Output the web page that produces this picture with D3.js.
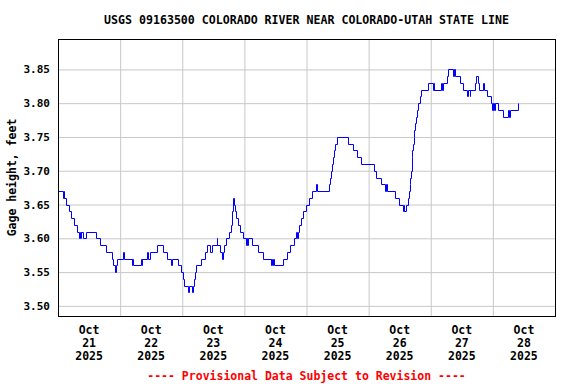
<!DOCTYPE html>
<html>
<head>
<meta charset="utf-8">
<script src="https://cdnjs.cloudflare.com/ajax/libs/d3/7.8.5/d3.min.js"></script>
<style>
	body { margin: 0; background: #fff; }
	svg text { font-family: "DejaVu Sans Mono", "Liberation Mono", monospace; font-weight: bold; fill: #000; }
</style>
</head>
<body>
<div id="chart"></div>
<script>
// Gage height readings. Each pair is [hour of the day, feet]
// and the value holds until the next pair (the gage reports in 0.01 ft steps).
const oct21 = [[0,3.67],[1.9,3.66],[2.2,3.67],[2.4,3.66],[3.2,3.65],[4.1,3.64],[5.2,3.63],[6.1,3.62],[7.2,3.61],[8.3,3.60],[8.6,3.61],[8.8,3.60],[9.0,3.61],[9.8,3.60],[11.0,3.61],[14.8,3.60],[16.1,3.59],[18.7,3.58],[20.9,3.57],[21.3,3.56],[21.9,3.55],[22.4,3.56],[22.8,3.57]];
const oct22 = [[1.2,3.58],[1.5,3.57],[4.4,3.56],[4.6,3.57],[4.9,3.56],[8.0,3.57],[8.3,3.56],[8.6,3.57],[10.2,3.58],[10.6,3.57],[11.5,3.58],[14.3,3.59],[16.6,3.58],[18.2,3.57],[19.6,3.56],[20.1,3.57],[22.2,3.56],[23.7,3.55]];
const oct23 = [[0.4,3.54],[0.8,3.53],[2.3,3.52],[2.7,3.53],[3.9,3.52],[4.2,3.53],[4.6,3.54],[4.9,3.55],[5.5,3.56],[7.2,3.57],[8.8,3.58],[9.7,3.59],[10.7,3.58],[11.6,3.59],[13.3,3.60],[13.6,3.59],[14.6,3.58],[15.2,3.57],[15.7,3.58],[16.3,3.59],[17.0,3.60],[18.1,3.61],[18.8,3.62],[19.2,3.64],[19.5,3.66],[20.1,3.65],[20.4,3.64],[20.8,3.63],[21.7,3.62],[22.3,3.61],[23.6,3.60]];
const oct24 = [[0.6,3.59],[0.8,3.60],[1.2,3.59],[1.4,3.60],[3.1,3.59],[5.4,3.58],[7.2,3.57],[10.1,3.56],[10.3,3.57],[10.7,3.56],[10.9,3.57],[11.5,3.56],[15.1,3.57],[16.5,3.58],[17.5,3.59],[19.0,3.60],[20.0,3.61],[20.3,3.60],[20.7,3.61],[21.2,3.62],[21.9,3.63],[22.8,3.64],[23.8,3.65]];
const oct25 = [[0.8,3.66],[2.2,3.67],[3.7,3.68],[3.9,3.67],[8.5,3.68],[9.0,3.69],[9.3,3.70],[9.7,3.71],[10.2,3.72],[10.6,3.73],[11.0,3.74],[11.8,3.75],[16.0,3.74],[18.0,3.73],[19.4,3.72],[21.0,3.71]];
const oct26 = [[2.0,3.70],[2.8,3.69],[4.8,3.68],[6.4,3.67],[6.6,3.68],[7.2,3.67],[10.1,3.66],[11.6,3.65],[13.2,3.64],[13.5,3.65],[13.7,3.64],[14.5,3.65],[15.2,3.66],[15.6,3.67],[15.8,3.68],[15.9,3.69],[16.4,3.70],[16.6,3.72],[16.8,3.73],[17.1,3.74],[17.4,3.75],[17.7,3.76],[17.9,3.77],[18.2,3.78],[18.7,3.79],[19.1,3.80],[19.7,3.81],[20.4,3.82],[22.9,3.83]];
const oct27 = [[0.8,3.82],[1.2,3.83],[1.4,3.82],[4.0,3.83],[4.5,3.82],[4.8,3.83],[6.3,3.84],[6.6,3.85],[8.6,3.84],[9.0,3.85],[9.5,3.84],[11.2,3.83],[12.4,3.82],[14.1,3.81],[14.4,3.82],[15.0,3.81],[15.3,3.82],[17.0,3.83],[17.3,3.84],[18.4,3.83],[18.8,3.82],[20.3,3.83],[20.5,3.82],[21.8,3.81],[23.1,3.80],[23.7,3.79]];
const oct28 = [[0.0,3.80],[0.4,3.79],[0.8,3.80],[1.9,3.79],[3.9,3.78],[5.9,3.79],[6.3,3.78],[6.6,3.79],[9.7,3.80]];

const days = [oct21, oct22, oct23, oct24, oct25, oct26, oct27, oct28];
const dayLabels = ['21', '22', '23', '24', '25', '26', '27', '28'];
const monthLabel = 'Oct';
const yearLabel = '2025';
const yTicks = [3.50, 3.55, 3.60, 3.65, 3.70, 3.75, 3.80, 3.85];

const title = 'USGS 09163500 COLORADO RIVER NEAR COLORADO-UTAH STATE LINE';
const yLabel = 'Gage height, feet';
const footer = '---- Provisional Data Subject to Revision ----';

function drawGage(container){
	const width = 576,
		height = 384,
		margin = {top: 39, right: 21, bottom: 68, left: 58},
		innerWidth = width - margin.left - margin.right,
		innerHeight = height - margin.top - margin.bottom;

	// flatten the per-day readings into real timestamps
	const start = Date.UTC(2025, 9, 21);
	const HOUR = 3600 * 1000;
	const readings = [];
	days.forEach((day, i) => {
		day.forEach(d => readings.push({date: new Date(start + (i * 24 + d[0]) * HOUR), value: d[1]}));
	});

	const svg = d3.select(container)
		.append('svg')
			.attr('width', width)
			.attr('height', height);

	const g = svg.append('g')
		.attr('transform', `translate(${margin.left}, ${margin.top})`);

	// Scales. Eight whole days across, a little slack above and below the ticks.
	const x = d3.scaleUtc()
		.domain([new Date(start), new Date(start + 8 * 24 * HOUR)])
		.range([0, innerWidth]);

	const y = d3.scaleLinear()
		.domain([3.485, 3.895])
		.range([innerHeight, 0]);

	// horizontal grid
	g.append('g')
		.classed('grid-y', true)
		.call(d3.axisLeft(y).tickValues(yTicks).tickSize(-innerWidth).tickFormat(''))
		.call(s => s.select('.domain').remove())
		.call(s => s.selectAll('line').attr('stroke', '#c8c8c8'));

	// vertical grid at each midnight
	const midnights = d3.range(1, 8).map(i => new Date(start + i * 24 * HOUR));
	g.append('g')
		.classed('grid-x', true)
		.attr('transform', `translate(0,${innerHeight})`)
		.call(d3.axisBottom(x).tickValues(midnights).tickSize(-innerHeight).tickFormat(''))
		.call(s => s.select('.domain').remove())
		.call(s => s.selectAll('line').attr('stroke', '#c8c8c8'));

	// y tick labels
	g.append('g')
		.classed('y axis', true)
		.call(d3.axisLeft(y).tickValues(yTicks).tickSize(0).tickPadding(8).tickFormat(d3.format('.2f')))
		.call(s => s.select('.domain').remove())
		.call(s => s.selectAll('text')
			.style('font-size', '11px')
			.style('font-family', '"DejaVu Sans Mono", monospace')
			.style('font-weight', 'bold'));

	// x labels sit at noon of each day, three lines each
	const noons = dayLabels.map((lab, i) => ({lab, date: new Date(start + (i * 24 + 12) * HOUR)}));
	const xl = g.append('g')
		.classed('x axis', true)
		.selectAll('text')
		.data(noons)
		.enter()
		.append('text')
			.attr('text-anchor', 'middle')
			.style('font-size', '11.5px')
			.attr('transform', d => `translate(${x(d.date)},${innerHeight + 18})`);
	xl.append('tspan').attr('x', 0).attr('dy', 0).text(monthLabel);
	xl.append('tspan').attr('x', 0).attr('dy', 13).text(d => d.lab);
	xl.append('tspan').attr('x', 0).attr('dy', 13).text(yearLabel);

	// the gage line itself, snapped to pixel centres so the 1px steps stay sharp
	const line = d3.line()
		.x(d => Math.round(x(d.date)) + 0.5)
		.y(d => Math.round(y(d.value)) + 0.5)
		.curve(d3.curveStepAfter);

	g.append('path')
		.datum(readings)
		.attr('fill', 'none')
		.attr('stroke', '#0000ff')
		.attr('stroke-width', 1)
		.attr('d', line);

	// frame
	g.append('rect')
		.attr('x', 0.5)
		.attr('y', 0.5)
		.attr('width', innerWidth)
		.attr('height', innerHeight)
		.attr('fill', 'none')
		.attr('stroke', '#000')
		.attr('stroke-width', 1);

	// title, y label, footer
	svg.append('text')
		.attr('x', margin.left + innerWidth / 2)
		.attr('y', 24)
		.attr('text-anchor', 'middle')
		.style('font-size', '11.6px')
		.text(title);

	svg.append('text')
		.attr('transform', `translate(16, ${margin.top + innerHeight / 2}) rotate(-90)`)
		.attr('text-anchor', 'middle')
		.style('font-size', '11.5px')
		.text(yLabel);

	svg.append('text')
		.attr('x', margin.left + innerWidth / 2)
		.attr('y', 380)
		.attr('text-anchor', 'middle')
		.style('font-size', '11.5px')
		.style('fill', '#ff0000')
		.text(footer);
}

drawGage('#chart');
</script>
</body>
</html>
